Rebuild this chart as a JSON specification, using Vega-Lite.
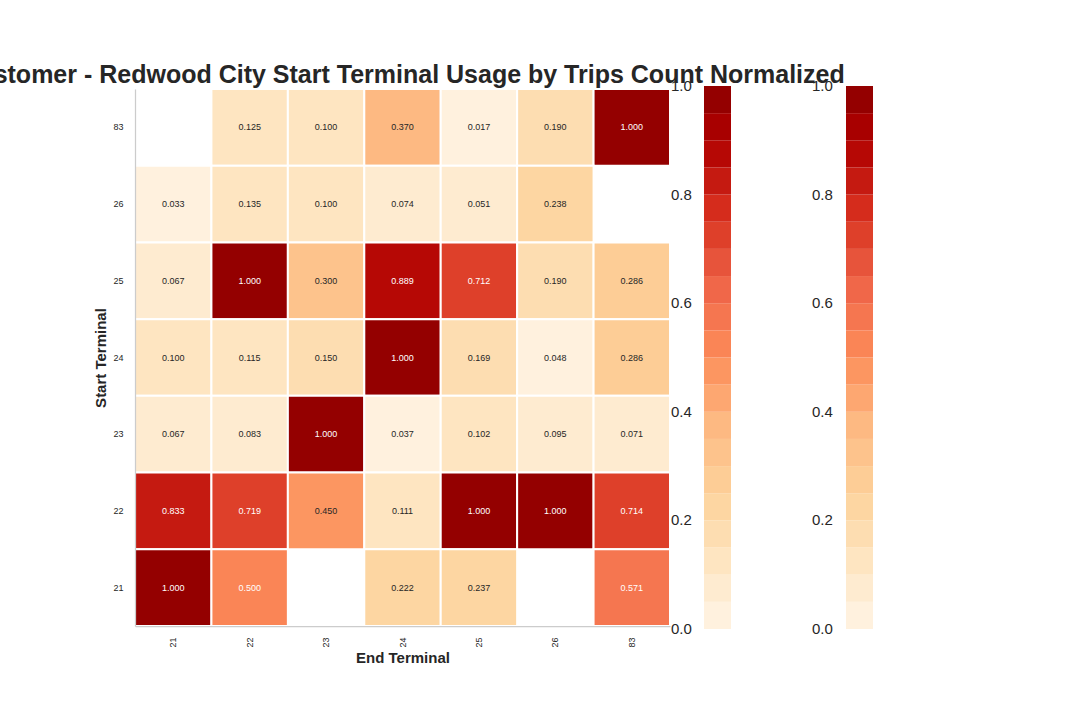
{
  "$schema": "https://vega.github.io/schema/vega-lite/v6.json",
  "width": 535,
  "height": 537,
  "autosize": {"type": "none"},
  "padding": {"left": 135, "top": 89, "right": 410, "bottom": 94},
  "background": "white",
  "title": {
    "text": "Customer - Redwood City Start Terminal Usage by Trips Count Normalized",
    "fontSize": 25,
    "font": "Liberation Sans",
    "fontWeight": "bold",
    "color": "#262626",
    "anchor": "middle",
    "frame": "group",
    "baseline": "alphabetic",
    "offset": -49
  },
  "config": {
    "view": {"stroke": null},
    "legend": {"gradientVerticalMaxLength": 700, "gradientLength": 597.3, "gradientThickness": 27},
    "axis": {
      "labelFont": "Liberation Sans",
      "labelFontSize": 9,
      "labelColor": "#262626",
      "titleFont": "Liberation Sans",
      "titleFontSize": 15,
      "titleFontWeight": "bold",
      "titleColor": "#262626",
      "ticks": false,
      "grid": false,
      "domainColor": "#cccccc",
      "domainWidth": 1.25
    }
  },
  "data": {
    "values": [
      {"start": "83", "end": "22", "value": 0.125},
      {"start": "83", "end": "23", "value": 0.100},
      {"start": "83", "end": "24", "value": 0.370},
      {"start": "83", "end": "25", "value": 0.017},
      {"start": "83", "end": "26", "value": 0.190},
      {"start": "83", "end": "83", "value": 1.000},
      {"start": "26", "end": "21", "value": 0.033},
      {"start": "26", "end": "22", "value": 0.135},
      {"start": "26", "end": "23", "value": 0.100},
      {"start": "26", "end": "24", "value": 0.074},
      {"start": "26", "end": "25", "value": 0.051},
      {"start": "26", "end": "26", "value": 0.238},
      {"start": "25", "end": "21", "value": 0.067},
      {"start": "25", "end": "22", "value": 1.000},
      {"start": "25", "end": "23", "value": 0.300},
      {"start": "25", "end": "24", "value": 0.889},
      {"start": "25", "end": "25", "value": 0.712},
      {"start": "25", "end": "26", "value": 0.190},
      {"start": "25", "end": "83", "value": 0.286},
      {"start": "24", "end": "21", "value": 0.100},
      {"start": "24", "end": "22", "value": 0.115},
      {"start": "24", "end": "23", "value": 0.150},
      {"start": "24", "end": "24", "value": 1.000},
      {"start": "24", "end": "25", "value": 0.169},
      {"start": "24", "end": "26", "value": 0.048},
      {"start": "24", "end": "83", "value": 0.286},
      {"start": "23", "end": "21", "value": 0.067},
      {"start": "23", "end": "22", "value": 0.083},
      {"start": "23", "end": "23", "value": 1.000},
      {"start": "23", "end": "24", "value": 0.037},
      {"start": "23", "end": "25", "value": 0.102},
      {"start": "23", "end": "26", "value": 0.095},
      {"start": "23", "end": "83", "value": 0.071},
      {"start": "22", "end": "21", "value": 0.833},
      {"start": "22", "end": "22", "value": 0.719},
      {"start": "22", "end": "23", "value": 0.450},
      {"start": "22", "end": "24", "value": 0.111},
      {"start": "22", "end": "25", "value": 1.000},
      {"start": "22", "end": "26", "value": 1.000},
      {"start": "22", "end": "83", "value": 0.714},
      {"start": "21", "end": "21", "value": 1.000},
      {"start": "21", "end": "22", "value": 0.500},
      {"start": "21", "end": "24", "value": 0.222},
      {"start": "21", "end": "25", "value": 0.237},
      {"start": "21", "end": "83", "value": 0.571}
    ]
  },
  "encoding": {
    "x": {
      "field": "end",
      "type": "ordinal",
      "sort": ["21", "22", "23", "24", "25", "26", "83"],
      "scale": {"paddingInner": 0, "paddingOuter": 0},
      "axis": {"title": "End Terminal", "labelAngle": 270, "labelPadding": 11, "titlePadding": 3, "orient": "bottom"}
    },
    "y": {
      "field": "start",
      "type": "ordinal",
      "sort": ["83", "26", "25", "24", "23", "22", "21"],
      "scale": {"paddingInner": 0, "paddingOuter": 0},
      "axis": {"title": "Start Terminal", "labelPadding": 12, "titlePadding": 4, "labelAngle": 0}
    }
  },
  "layer": [
    {
      "mark": {"type": "rect", "stroke": "white", "strokeWidth": 2},
      "encoding": {
        "color": {
          "field": "value",
          "type": "quantitative",
          "scale": {
            "type": "threshold",
            "domain": [0, 0.05, 0.1, 0.15, 0.2, 0.25, 0.3, 0.35, 0.4, 0.45, 0.5, 0.55, 0.6, 0.65, 0.7, 0.75, 0.8, 0.85, 0.9, 0.95, 1.0000001],
            "range": ["rgba(255,255,255,0)", "#fff1de", "#feebd0", "#fee5c1", "#fdddb1", "#fdd6a2", "#fdcd96", "#fdc38c", "#fdb982", "#fda771", "#fc9661", "#fa8556", "#f57650", "#f06749", "#e7543b", "#de402a", "#d52c1c", "#c51a11", "#b60805", "#a80000", "#940000", "rgba(255,255,255,0)"]
          },
          "legend": {
            "title": null,
            "orient": "none",
            "legendX": 569,
            "legendY": -30.15,
            "direction": "vertical",
            "gradientLength": 597.3,
            "gradientThickness": 27,
            "gradientStrokeWidth": 0,
            "labelExpr": "abs(datum.value * 5 - round(datum.value * 5)) < 0.001 ? format(datum.value, '.1f') : ''",
            "labelFont": "Liberation Sans",
            "labelFontSize": 15,
            "labelColor": "#262626",
            "labelAlign": "right",
            "labelOffset": -60,
            "labelOverlap": false,
            "padding": 0
          }
        }
      }
    },
    {
      "mark": {"type": "text", "fontSize": 9, "font": "Liberation Sans"},
      "encoding": {
        "text": {"field": "value", "type": "quantitative", "format": ".3f"},
        "color": {"condition": {"test": "datum.value >= 0.5", "value": "white"}, "value": "#262626"}
      }
    },
    {
      "mark": {"type": "rect", "fillOpacity": 0, "strokeOpacity": 0},
      "encoding": {
        "stroke": {
          "field": "value",
          "type": "quantitative",
          "scale": {
            "type": "threshold",
            "domain": [0, 0.05, 0.1, 0.15, 0.2, 0.25, 0.3, 0.35, 0.4, 0.45, 0.5, 0.55, 0.6, 0.65, 0.7, 0.75, 0.8, 0.85, 0.9, 0.95, 1.0000002],
            "range": ["rgba(255,255,255,0)", "#fff1de", "#feebd0", "#fee5c1", "#fdddb1", "#fdd6a2", "#fdcd96", "#fdc38c", "#fdb982", "#fda771", "#fc9661", "#fa8556", "#f57650", "#f06749", "#e7543b", "#de402a", "#d52c1c", "#c51a11", "#b60805", "#a80000", "#940000", "rgba(255,255,255,0)"]
          },
          "legend": {
            "title": null,
            "orient": "none",
            "legendX": 711,
            "legendY": -30.15,
            "direction": "vertical",
            "gradientLength": 597.3,
            "gradientThickness": 28,
            "gradientStrokeWidth": 0,
            "labelExpr": "abs(datum.value * 5 - round(datum.value * 5)) < 0.001 ? format(datum.value, '.1f') : ''",
            "labelFont": "Liberation Sans",
            "labelFontSize": 15,
            "labelColor": "#262626",
            "labelAlign": "right",
            "labelOffset": -61,
            "labelOverlap": false,
            "padding": 0
          }
        }
      }
    }
  ]
}
